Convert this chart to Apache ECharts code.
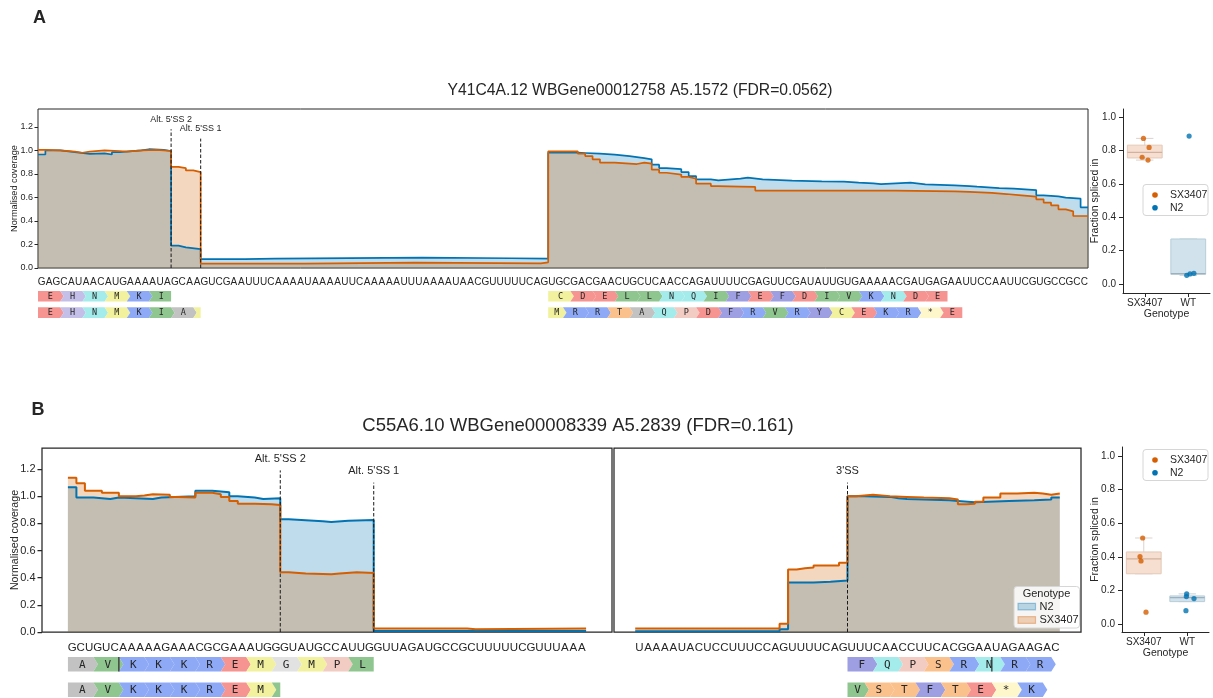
<!DOCTYPE html>
<html>
<head>
<meta charset="utf-8">
<script src="https://cdn.jsdelivr.net/npm/echarts@6.0.0/dist/echarts.min.js"></script>
<style>html,body{margin:0;padding:0;background:#fff;}#chart{width:1213px;height:698px;}</style>
</head>
<body>
<div id="chart"></div>
<script>
// ===================== DATA =====================
const genotypeNames = ['N2', 'SX3407'];
const psiCategories = ['SX3407', 'WT'];
const covTickValues = [0, 0.2, 0.4, 0.6, 0.8, 1.0, 1.2];
const psiTickValues = [0, 0.2, 0.4, 0.6, 0.8, 1.0];

const titleA = 'Y41C4A.12 WBGene00012758 A5.1572 (FDR=0.0562)';
const titleB = 'C55A6.10 WBGene00008339 A5.2839 (FDR=0.161)';

// ---- Panel A ----
const seqA = ['GAGCAUAACA','UGAAAAUAGC','AAGUCGAAUU','UCAAAAUAAA','AUUCAAAAAU','UUAAAAUAAC',
  'GUUUUUCAGU','GCGACGAACU','GCUCAACCAG','AUUUUCGAGU','UCGAUAUUGU','GAAAAACGAU',
  'GAGAAUUCCA','AUUCGUGCCG','CCAA'].join('');
const coverageA_N2 = [[0,0.965],[1,1.0],[3,0.985],[5,0.97],[7,0.975],[9,0.965],[10,0.985],[11,1.0],[14,1.01],[15,1.005],[17,0.995],
  [18,0.19],[19,0.175],[20,0.16],[22,0.075],[28,0.08],[32,0.088],[52,0.083],[64,0.08],
  [69,0.981],[73,0.978],[74,0.972],[76,0.964],[78,0.952],[80,0.935],[82,0.924],[83,0.879],[84,0.85],[85,0.84],[87,0.816],
  [88,0.782],[89,0.754],[91,0.745],[92,0.76],[95,0.768],[96,0.754],[98,0.743],[102,0.737],[106,0.734],[109,0.726],[111,0.72],
  [113,0.714],[114,0.72],[116,0.726],[118,0.711],[120,0.703],[124,0.697],[126,0.692],[127,0.68],[130,0.675],[132,0.663],
  [135,0.618],[136,0.609],[138,0.598],[139,0.59],[141,0.516],[142,0.516]];
const coverageA_SX3407 = [[0,1.005],[1,1.0],[3,0.99],[5,0.98],[6,0.99],[7,1.0],[9,0.995],[11,0.99],[12,1.0],[14,1.005],[16,1.0],[17,0.995],
  [18,0.86],[19,0.85],[20,0.83],[21,0.815],[22,0.037],[36,0.04],[40,0.045],[51,0.04],[68,0.048],
  [69,0.992],[73,0.972],[74,0.952],[75,0.924],[76,0.896],[78,0.884],[81,0.896],[82,0.887],[83,0.836],[84,0.81],[85,0.794],
  [87,0.774],[88,0.76],[89,0.717],[91,0.697],[92,0.692],[95,0.689],[97,0.658],[116,0.652],[124,0.648],[126,0.638],[129,0.629],
  [131,0.618],[133,0.607],[135,0.584],[136,0.556],[137,0.533],[138,0.499],[139,0.482],[140,0.442],[142,0.442]];
const sitesA = [{name:"Alt. 5'SS 2", pos:18, top:1.18}, {name:"Alt. 5'SS 1", pos:22, top:1.10}];
const framesA1 = [{aa:'EHNMKI', start:0, end:18}, {aa:'CDELLNQIFEFDIVKNDE', start:69, end:123}];
const framesA2 = [{aa:'EHNMKIAM', start:0, end:22}, {aa:'MRRTAQPDFRVRYCEKR*E', start:69, phase:2, end:125}];
const psiA_SX3407 = [0.872, 0.818, 0.759, 0.742];
const psiA_WT = [0.886, 0.052, 0.060, 0.064];
const jitterA_SX3407 = [-0.03, 0.10, -0.06, 0.075];
const jitterA_WT = [0.02, -0.035, 0.04, 0.13];

// ---- Panel B ----
const seqB_left = 'GCUGUCAAAAAGAAACGCGAAAUGGGUAUGCCAUUGGUUAGAUGCCGCUUUUUCGUUUAAA';
const seqB_right = 'UAAAAUACUCCUUUCCAGUUUUCAGUUUCAACCUUCACGGAAUAGAAGAC';
const coverageBL_N2 = [[0,1.066],[1,0.99],[3,0.98],[5,0.99],[6,0.98],[10,0.99],[11,1.0],[15,1.04],[17,1.03],[19,1.0],[20,0.99],
  [22,0.98],[23,0.985],[25,0.83],[26,0.82],[29,0.815],[30,0.81],[31,0.82],[33,0.825],[36,0.007],[61,0.007]];
const coverageBL_SX3407 = [[0,1.135],[1,1.095],[2,1.04],[4,1.025],[6,1.0],[8,1.005],[9,1.015],[10,1.01],[12,0.995],[13,0.99],
  [15,1.025],[17,1.015],[18,0.995],[19,0.965],[20,0.945],[22,0.94],[24,0.935],[25,0.44],[26,0.43],[28,0.425],[31,0.43],
  [32,0.44],[34,0.435],[36,0.025],[47,0.02],[48,0.025],[61,0.025]];
const coverageBR_N2 = [[0,0.005],[17,0.02],[18,0.365],[21,0.37],[23,0.38],[25,1.0],[27,0.995],[30,0.985],[31,0.98],[32,0.97],
  [37,0.965],[38,0.955],[40,0.965],[44,0.97],[47,0.975],[49,0.99],[50,0.99]];
const coverageBR_SX3407 = [[0,0.025],[17,0.06],[18,0.46],[19,0.47],[20,0.475],[21,0.49],[24,0.51],[25,1.0],[26,1.005],[27,1.01],
  [28,1.0],[30,0.995],[32,0.99],[34,0.985],[37,0.975],[38,0.94],[39,0.945],[40,0.96],[41,0.99],[43,1.02],[45,1.025],[47,1.02],
  [48,1.01],[49,1.02],[50,1.02]];
const sitesB_left = [{name:"Alt. 5'SS 2", pos:25, top:1.19}, {name:"Alt. 5'SS 1", pos:36, top:1.10}];
const sitesB_right = [{name:"3'SS", pos:25, top:1.10}];
const framesBL1 = [{aa:'AVKKKREMGMPL', start:0, end:36}];
const framesBL2 = [{aa:'AVKKKREMV', start:0, end:25}];
const framesBR1 = [{aa:'FQPSRNRR', start:25, end:49, open:true}];
const framesBR2 = [{aa:'VSTFTE*K', start:25, phase:2, end:48, open:true}];
const junctionsBL1 = [6];
const junctionsBR1 = [42];
const psiB_SX3407 = [0.512, 0.401, 0.375, 0.070];
const psiB_WT = [0.179, 0.163, 0.151, 0.079];
const jitterB_SX3407 = [-0.025, -0.086, -0.063, 0.052];
const jitterB_WT = [-0.013, -0.02, 0.155, -0.03];

// ===================== STYLE =====================
const SANS = '"Liberation Sans", Arial, Helvetica, sans-serif';
const MONO = '"DejaVu Sans Mono", "Liberation Mono", monospace';
const INK = '#262626';
const C_N2 = '#0173b2', C_SX = '#d55e00';
const aaColors = {E:'#f59490',D:'#f59490',H:'#c4bfe9',N:'#a4ecec',Q:'#a4ecec',M:'#f2f29e',C:'#f2f29e',K:'#8eaaf7',R:'#8eaaf7',
  I:'#8fc58f',L:'#8fc58f',V:'#8fc58f',A:'#c2c2c2',G:'#e2e2e2',F:'#9e9ee2',Y:'#9e9ee2',W:'#9e9ee2',T:'#fbc18d',S:'#fbc18d',
  P:'#f2cbc3','*':'#fff7cc'};
const boxStyles = [
  {fill:'#f6dfd0', stroke:'#e4c9b7', median:'#d2b29e', whisker:'#dcd2cc'},
  {fill:'#d1e2ec', stroke:'#b8cdd9', median:'#9cb1be', whisker:'#c7d2d9'}
];

// ===================== BUILD =====================
const grids = [], xAxes = [], yAxes = [], series = [], graphics = [];
function addGrid(g) { grids.push(Object.assign({outerBoundsMode:'none', containLabel:false}, g)); return grids.length - 1; }

function txt(text, x, y, size, opts) {
  opts = opts || {};
  return {type:'text', x:x, y:y, z:100, silent:true, style:{text:text, fontSize:size, fontFamily:opts.family||SANS,
    fontWeight:opts.weight||'normal', fill:opts.fill||INK,
    textAlign:opts.align||'left', align:opts.align||'left',
    textVerticalAlign:opts.valign||'middle', verticalAlign:opts.valign||'middle'}};
}

function coverage(cfg) {
  const gi = addGrid({left:cfg.left, top:cfg.top, width:cfg.width, height:cfg.height, show:true,
    borderColor:INK, borderWidth:cfg.spine, backgroundColor:'rgba(0,0,0,0)'});
  const xi = xAxes.length;
  xAxes.push({gridIndex:gi, type:'value', min:cfg.x[0], max:cfg.x[1], show:false});
  const yi = yAxes.length;
  yAxes.push({gridIndex:gi, type:'value', min:0, max:cfg.yMax, splitLine:{show:false},
    axisLine:{show:false, onZero:false},
    axisTick:{show:cfg.ticks, customValues:covTickValues, length:cfg.tickLen, lineStyle:{color:INK, width:cfg.spine}},
    axisLabel:{show:cfg.ticks, customValues:covTickValues, formatter:function(v){return v.toFixed(1);},
      fontSize:cfg.fs, color:INK, margin:cfg.margin, fontFamily:SANS},
    name:cfg.ticks ? 'Normalised coverage' : '', nameLocation:'middle', nameGap:cfg.nameGap, nameMoveOverlap:false,
    nameTextStyle:{fontSize:cfg.nameFs, color:INK, fontFamily:SANS}});
  [[cfg.n2, C_N2, genotypeNames[0]], [cfg.sx, C_SX, genotypeNames[1]]].forEach(function(s) {
    series.push({type:'line', name:s[2], xAxisIndex:xi, yAxisIndex:yi, data:s[0], step:'end', symbol:'none',
      showSymbol:false, silent:true, clip:true, lineStyle:{color:s[1], width:cfg.lw}, itemStyle:{color:s[1]},
      areaStyle:{color:s[1], opacity:0.25}, emphasis:{disabled:true}});
  });
  const sites = cfg.sites;
  series.push({type:'custom', xAxisIndex:xi, yAxisIndex:yi, silent:true, clip:false, z:5,
    data:sites.map(function(s){return [s.pos, s.top];}), encode:{x:0, y:1},
    renderItem:function(p, api) {
      const s = sites[p.dataIndex];
      const b = api.coord([api.value(0), 0]);
      const t = api.coord([api.value(0), api.value(1)]);
      return {type:'group', children:[
        {type:'line', shape:{x1:b[0], y1:b[1], x2:t[0], y2:t[1]}, style:{stroke:'#1a1a1a', lineWidth:1, lineDash:[3.5, 2]}},
        {type:'text', x:t[0], y:t[1] - cfg.labelGap, style:{text:s.name, fontSize:cfg.siteFs, fontFamily:SANS, fill:INK,
          textAlign:'center', align:'center', textVerticalAlign:'bottom', verticalAlign:'bottom'}}
      ]};
    }});
}

function trackAxes(left, width, top, height, x) {
  const gi = addGrid({left:left, top:top, width:width, height:height});
  const xi = xAxes.length;
  xAxes.push({gridIndex:gi, type:'value', min:x[0], max:x[1], show:false});
  const yi = yAxes.length;
  yAxes.push({gridIndex:gi, type:'value', min:0, max:1, show:false});
  return [xi, yi];
}

function seqSeries(ax, seq, fs) {
  series.push({type:'custom', xAxisIndex:ax[0], yAxisIndex:ax[1], clip:true, silent:true,
    data:seq.split('').map(function(c, i){return [i + 0.5, 0.5];}), encode:{x:0, y:1},
    renderItem:function(p, api) {
      const pt = api.coord([api.value(0), api.value(1)]);
      return {type:'text', x:pt[0], y:pt[1], style:{text:seq[p.dataIndex], fontSize:fs, fontFamily:SANS, fill:INK,
        textAlign:'center', align:'center', textVerticalAlign:'middle', verticalAlign:'middle'}};
    }});
}

function buildBlocks(tr) {
  const out = [];
  let pos = tr.start;
  for (let i = 0; i < tr.aa.length; i++) {
    const len = (i === 0 && tr.phase) ? tr.phase : 3;
    const s = pos, e = Math.min(pos + len, tr.end);
    if (e <= s) break;
    out.push({s:s, e:e, aa:tr.aa[i], first:i === 0, last:(i === tr.aa.length - 1) || (pos + len >= tr.end), open:!!tr.open});
    pos += len;
  }
  return out;
}

function frameSeries(ax, tracks, junctions, tip, fs) {
  const blocks = [];
  tracks.forEach(function(t){ blocks.push.apply(blocks, buildBlocks(t)); });
  series.push({type:'custom', xAxisIndex:ax[0], yAxisIndex:ax[1], clip:false, silent:true,
    data:blocks.map(function(b){return [b.s, b.e, 0.5];}), encode:{x:[0, 1], y:2},
    renderItem:function(p, api) {
      const b = blocks[p.dataIndex];
      const cs = p.coordSys;
      const x0 = api.coord([api.value(0), 0.5])[0], x1 = api.coord([api.value(1), 0.5])[0];
      const yT = cs.y, yB = cs.y + cs.height, yM = (yT + yB) / 2;
      const hasTip = !b.last || b.open;
      const pts = [[x0, yT], [x1, yT]];
      if (hasTip) pts.push([x1 + tip, yM]);
      pts.push([x1, yB], [x0, yB]);
      if (!b.first) pts.push([x0 + tip, yM]);
      const children = [{type:'polygon', shape:{points:pts}, style:{fill:aaColors[b.aa] || '#ccc'}}];
      if (b.e - b.s >= 2) {
        children.push({type:'text', x:(x0 + x1) / 2 + tip * 0.35, y:yM + 0.5, style:{text:b.aa, fontSize:fs, fontFamily:MONO,
          fill:INK, textAlign:'center', align:'center', textVerticalAlign:'middle', verticalAlign:'middle'}});
      }
      return {type:'group', children:children};
    }});
  if (junctions && junctions.length) {
    series.push({type:'custom', xAxisIndex:ax[0], yAxisIndex:ax[1], clip:false, silent:true, z:4,
      data:junctions.map(function(j){return [j, 0.5];}), encode:{x:0, y:1},
      renderItem:function(p, api) {
        const cs = p.coordSys;
        const x = api.coord([api.value(0), 0.5])[0];
        return {type:'line', shape:{x1:x, y1:cs.y, x2:x, y2:cs.y + cs.height}, style:{stroke:'#333', lineWidth:1.3}};
      }});
  }
}

function quant(sorted, q) {
  const pos = (sorted.length - 1) * q, lo = Math.floor(pos), hi = Math.ceil(pos);
  return sorted[lo] + (sorted[hi] - sorted[lo]) * (pos - lo);
}
function boxStats(vals) {
  const s = vals.slice().sort(function(a, b){return a - b;});
  const q1 = quant(s, 0.25), med = quant(s, 0.5), q3 = quant(s, 0.75), iqr = q3 - q1;
  const lo = s.filter(function(v){return v >= q1 - 1.5 * iqr;})[0];
  const inHi = s.filter(function(v){return v <= q3 + 1.5 * iqr;});
  const hi = inHi[inHi.length - 1];
  return [Math.min(lo, q1), q1, med, q3, Math.max(hi, q3)];
}

function psiPanel(cfg) {
  const gi = addGrid({left:cfg.left, top:cfg.top, width:cfg.width, height:cfg.height});
  const xc = xAxes.length;
  xAxes.push({gridIndex:gi, type:'category', data:psiCategories, boundaryGap:true,
    axisLine:{show:true, onZero:false, lineStyle:{color:INK, width:1}},
    axisTick:{show:true, alignWithLabel:true, length:4, lineStyle:{color:INK}},
    axisLabel:{fontSize:10, color:INK, margin:5, fontFamily:SANS, interval:0},
    splitLine:{show:false}, name:'Genotype', nameLocation:'middle', nameGap:cfg.xNameGap,
    nameTextStyle:{fontSize:10.5, color:INK, fontFamily:SANS}});
  const xv = xAxes.length;
  xAxes.push({gridIndex:gi, type:'value', min:-0.5, max:1.5, show:false});
  const yi = yAxes.length;
  yAxes.push({gridIndex:gi, type:'value', min:cfg.yMin, max:cfg.yMax, splitLine:{show:false},
    axisLine:{show:true, onZero:false, lineStyle:{color:INK, width:1}},
    axisTick:{show:true, customValues:psiTickValues, length:4, lineStyle:{color:INK}},
    axisLabel:{customValues:psiTickValues, formatter:function(v){return v.toFixed(1);}, fontSize:10, color:INK, margin:7, fontFamily:SANS},
    name:'Fraction spliced in', nameLocation:'middle', nameGap:cfg.yNameGap, nameMoveOverlap:false,
    nameTextStyle:{fontSize:10.5, color:INK, fontFamily:SANS}});
  const stats = [boxStats(cfg.sx), boxStats(cfg.wt)];
  series.push({type:'custom', xAxisIndex:xc, yAxisIndex:yi, silent:true, clip:false, z:2,
    data:stats.map(function(st, i){return [i].concat(st);}), encode:{x:0, y:[1, 2, 3, 4, 5]},
    renderItem:function(p, api) {
      const cat = api.value(0);
      const st = boxStyles[cat];
      const cx = api.coord([cat, 0])[0];
      const bw = api.size([1, 0])[0] * 0.8, h = bw / 2, cap = bw / 4;
      const Y = function(k){return api.coord([cat, api.value(k)])[1];};
      return {type:'group', children:[
        {type:'line', shape:{x1:cx, y1:Y(2), x2:cx, y2:Y(1)}, style:{stroke:st.whisker, lineWidth:1}},
        {type:'line', shape:{x1:cx, y1:Y(4), x2:cx, y2:Y(5)}, style:{stroke:st.whisker, lineWidth:1}},
        {type:'line', shape:{x1:cx - cap, y1:Y(1), x2:cx + cap, y2:Y(1)}, style:{stroke:st.whisker, lineWidth:1}},
        {type:'line', shape:{x1:cx - cap, y1:Y(5), x2:cx + cap, y2:Y(5)}, style:{stroke:st.whisker, lineWidth:1}},
        {type:'rect', shape:{x:cx - h, y:Y(4), width:bw, height:Y(2) - Y(4)}, style:{fill:st.fill, stroke:st.stroke, lineWidth:1}},
        {type:'line', shape:{x1:cx - h, y1:Y(3), x2:cx + h, y2:Y(3)}, style:{stroke:st.median, lineWidth:1.2}}
      ]};
    }});
  [[cfg.sx, cfg.jsx, 0, C_SX], [cfg.wt, cfg.jwt, 1, C_N2]].forEach(function(g) {
    series.push({type:'scatter', xAxisIndex:xv, yAxisIndex:yi, silent:true, z:5, symbolSize:5.2,
      itemStyle:{color:g[3]}, data:g[0].map(function(v, i){return [g[2] + g[1][i], v];})});
  });
  // legend (dot markers)
  const lg = cfg.legend;
  graphics.push({type:'rect', z:99, silent:true, shape:{x:lg.x, y:lg.y, width:65, height:31, r:3},
    style:{fill:'rgba(255,255,255,0.85)', stroke:'#d6d6d6', lineWidth:1}});
  [[genotypeNames[1], C_SX, 0], [genotypeNames[0], C_N2, 1]].forEach(function(it) {
    const cy = lg.y + 10.5 + it[2] * 12.8;
    graphics.push({type:'circle', z:100, silent:true, shape:{cx:lg.x + 12, cy:cy, r:2.8}, style:{fill:it[1]}});
    graphics.push(txt(it[0], lg.x + 27, cy, 10.5));
  });
}

// ---- Panel A ----
const xDomA = [0, 142];
coverage({left:38, top:109, width:1050, height:159, x:xDomA, yMax:1.352, n2:coverageA_N2, sx:coverageA_SX3407,
  sites:sitesA, ticks:true, fs:9, margin:5, tickLen:3.5, spine:1, nameGap:19, nameFs:9.2, lw:1.7, siteFs:9, labelGap:5.5});
seqSeries(trackAxes(38, 1050, 276, 13, xDomA), seqA, 10);
frameSeries(trackAxes(38, 1050, 291, 10.5, xDomA), framesA1, [], 3.5, 8.5);
frameSeries(trackAxes(38, 1050, 307.3, 10.7, xDomA), framesA2, [], 3.5, 8.5);
psiPanel({left:1123, top:109, width:87, height:184, yMin:-0.054, yMax:1.048, sx:psiA_SX3407, wt:psiA_WT,
  jsx:jitterA_SX3407, jwt:jitterA_WT, xNameGap:15, yNameGap:22.5, legend:{x:1143, y:184.5}});

// ---- Panel B ----
const xDomBL = [-3.05, 64.05], xDomBR = [-2.5, 52.5];
coverage({left:42, top:448, width:570, height:184, x:xDomBL, yMax:1.355, n2:coverageBL_N2, sx:coverageBL_SX3407,
  sites:sitesB_left, ticks:true, fs:11, margin:6.5, tickLen:4.5, spine:1.25, nameGap:21.5, nameFs:10.6, lw:2, siteFs:11, labelGap:6});
coverage({left:614, top:448, width:467, height:184, x:xDomBR, yMax:1.355, n2:coverageBR_N2, sx:coverageBR_SX3407,
  sites:sitesB_right, ticks:false, fs:11, margin:6.5, tickLen:4.5, spine:1.25, nameGap:21.5, nameFs:10.6, lw:2, siteFs:11, labelGap:6});
seqSeries(trackAxes(42, 570, 641, 14, xDomBL), seqB_left, 11.5);
seqSeries(trackAxes(614, 467, 641, 14, xDomBR), seqB_right, 11.5);
frameSeries(trackAxes(42, 570, 657, 14.5, xDomBL), framesBL1, junctionsBL1, 4.5, 11);
frameSeries(trackAxes(614, 467, 657, 14.5, xDomBR), framesBR1, junctionsBR1, 4.5, 11);
frameSeries(trackAxes(42, 570, 682.5, 14.5, xDomBL), framesBL2, [], 4.5, 11);
frameSeries(trackAxes(614, 467, 682.5, 14.5, xDomBR), framesBR2, [], 4.5, 11);
psiPanel({left:1122, top:447, width:87, height:185, yMin:-0.048, yMax:1.054, sx:psiB_SX3407, wt:psiB_WT,
  jsx:jitterB_SX3407, jwt:jitterB_WT, xNameGap:16, yNameGap:21.5, legend:{x:1143, y:449.5}});

// coverage legend in panel B
graphics.push({type:'rect', z:99, silent:true, shape:{x:1014, y:586.5, width:65.5, height:41.5, r:3},
  style:{fill:'rgba(255,255,255,0.85)', stroke:'#d6d6d6', lineWidth:1}});
graphics.push(txt('Genotype', 1046.5, 594, 11, {align:'center'}));
[[genotypeNames[0], C_N2, 0], [genotypeNames[1], C_SX, 1]].forEach(function(it) {
  const y = 603.3 + it[2] * 13.4;
  graphics.push({type:'rect', z:100, silent:true, shape:{x:1018, y:y, width:17.5, height:6.6},
    style:{fill:echarts.color.modifyAlpha(it[1], 0.25), stroke:echarts.color.modifyAlpha(it[1], 0.35), lineWidth:1.2}});
  graphics.push(txt(it[0], 1039.5, y + 3.3, 11));
});

// panel labels and titles
graphics.push(txt('A', 39.5, 18, 18, {align:'center', weight:'bold'}));
graphics.push(txt('B', 38, 410, 18, {align:'center', weight:'bold'}));
graphics.push(txt(titleA, 640, 91, 15.7, {align:'center'}));
graphics.push(txt(titleB, 578, 426, 18.5, {align:'center'}));

const chart = echarts.init(document.getElementById('chart'), null, {renderer:'canvas', width:1213, height:698});
chart.setOption({
  animation:false,
  backgroundColor:'#ffffff',
  textStyle:{fontFamily:SANS},
  grid:grids, xAxis:xAxes, yAxis:yAxes, series:series, graphic:graphics
});
</script>
</body>
</html>
